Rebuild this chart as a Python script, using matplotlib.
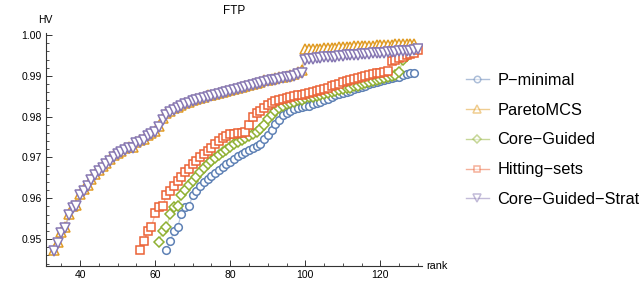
import matplotlib.pyplot as plt
import numpy as np

plt.rcParams["font.family"] = ["Liberation Sans", "DejaVu Sans"]

# ranks / HV values (one point per integer rank)
pmin_x = np.arange(63, 130)
pmin_y = [0.9473, 0.9495, 0.9519, 0.9530, 0.9562, 0.9578, 0.9581, 0.9607, 0.9619, 0.9629,
          0.9639, 0.9648, 0.9655, 0.9662, 0.9670, 0.9677, 0.9683, 0.9690, 0.9697, 0.9703,
          0.9709, 0.9714, 0.9718, 0.9722, 0.9727, 0.9733, 0.9745, 0.9755, 0.9768, 0.9782,
          0.9793, 0.9803, 0.9810, 0.9815, 0.9818, 0.9821, 0.9823, 0.9825, 0.9827, 0.9830,
          0.9833, 0.9836, 0.9840, 0.9843, 0.9848, 0.9852, 0.9855, 0.9858, 0.9861, 0.9864,
          0.9867, 0.9870, 0.9873, 0.9876, 0.9879, 0.9882, 0.9885, 0.9888, 0.9890, 0.9892,
          0.9894, 0.9896, 0.9898, 0.9901, 0.9904, 0.9906, 0.9907]

strat_x = np.arange(33, 131)
strat_y = [0.9470, 0.9490, 0.9515, 0.9527, 0.9558, 0.9577, 0.9580, 0.9607, 0.9619, 0.9630,
           0.9645, 0.9657, 0.9667, 0.9675, 0.9684, 0.9692, 0.9702, 0.9708, 0.9714, 0.9719,
           0.9722, 0.9723, 0.9736, 0.9739, 0.9742, 0.9753, 0.9758, 0.9762, 0.9775, 0.9793,
           0.9805, 0.9812, 0.9817, 0.9821, 0.9826, 0.9830, 0.9834, 0.9838, 0.9841, 0.9843,
           0.9846, 0.9849, 0.9851, 0.9853, 0.9855, 0.9858, 0.9861, 0.9863, 0.9865, 0.9867,
           0.9870, 0.9872, 0.9875, 0.9877, 0.9880, 0.9883, 0.9886, 0.9888, 0.9890, 0.9891,
           0.9893, 0.9895, 0.9897, 0.9898, 0.9899, 0.9904, 0.9906,
           0.9939, 0.9941, 0.9942, 0.9943, 0.9944, 0.9945, 0.9945, 0.9946, 0.9947, 0.9948,
           0.9949, 0.9950, 0.9950, 0.9951, 0.9952, 0.9953, 0.9953, 0.9954, 0.9955, 0.9956,
           0.9956, 0.9957, 0.9958, 0.9959, 0.9959, 0.9960, 0.9961, 0.9962, 0.9962, 0.9964,
           0.9965]

pareto_x = np.arange(33, 130)
pareto_y = [0.9473, 0.9493, 0.9518, 0.9530, 0.9561, 0.9580, 0.9583, 0.9610, 0.9622, 0.9633,
            0.9648, 0.9660, 0.9670, 0.9678, 0.9687, 0.9695, 0.9705, 0.9711, 0.9717, 0.9722,
            0.9725, 0.9726, 0.9739, 0.9742, 0.9745, 0.9756, 0.9761, 0.9765, 0.9778, 0.9796,
            0.9808, 0.9815, 0.9820, 0.9824, 0.9829, 0.9833, 0.9837, 0.9841, 0.9844, 0.9846,
            0.9849, 0.9852, 0.9854, 0.9856, 0.9858, 0.9861, 0.9864, 0.9866, 0.9868, 0.9870,
            0.9873, 0.9875, 0.9878, 0.9880, 0.9883, 0.9886, 0.9889, 0.9891, 0.9893, 0.9894,
            0.9896, 0.9898, 0.9900, 0.9902, 0.9904, 0.9910, 0.9914,
            0.9965, 0.9966, 0.9966, 0.9967, 0.9967, 0.9968, 0.9968, 0.9969, 0.9969, 0.9970,
            0.9970, 0.9971, 0.9971, 0.9972, 0.9972, 0.9973, 0.9973, 0.9974, 0.9974, 0.9975,
            0.9975, 0.9975, 0.9976, 0.9976, 0.9977, 0.9977, 0.9977, 0.9978, 0.9978, 0.9979]

core_x = np.arange(61, 130)
core_y = [0.9493, 0.9520, 0.9529, 0.9561, 0.9579, 0.9580, 0.9607, 0.9620, 0.9632, 0.9643,
          0.9653, 0.9664, 0.9674, 0.9683, 0.9691, 0.9699, 0.9707, 0.9713, 0.9719, 0.9726,
          0.9732, 0.9738, 0.9743, 0.9748, 0.9753, 0.9757, 0.9763, 0.9769, 0.9780, 0.9795,
          0.9805, 0.9814, 0.9820, 0.9825, 0.9830, 0.9834, 0.9837, 0.9840, 0.9842, 0.9845,
          0.9847, 0.9849, 0.9851, 0.9854, 0.9856, 0.9859, 0.9861, 0.9863, 0.9865, 0.9867,
          0.9869, 0.9871, 0.9874, 0.9876, 0.9879, 0.9882, 0.9885, 0.9887, 0.9890, 0.9892,
          0.9895, 0.9897, 0.9900, 0.9903, 0.9909, 0.9940, 0.9948, 0.9955, 0.9966]

hit_x = np.arange(56, 131)
hit_y = [0.9473, 0.9495, 0.9520, 0.9530, 0.9563, 0.9579, 0.9581, 0.9607, 0.9618, 0.9630,
         0.9643, 0.9652, 0.9664, 0.9672, 0.9683, 0.9692, 0.9700, 0.9708, 0.9716, 0.9724,
         0.9732, 0.9740, 0.9747, 0.9753, 0.9757, 0.9758, 0.9759, 0.9760, 0.9762, 0.9780,
         0.9800, 0.9808, 0.9815, 0.9821, 0.9828, 0.9833, 0.9838, 0.9841, 0.9843, 0.9846,
         0.9848, 0.9850, 0.9852, 0.9854, 0.9856, 0.9858, 0.9860, 0.9863, 0.9865, 0.9868,
         0.9870, 0.9874, 0.9877, 0.9880, 0.9884, 0.9887, 0.9890, 0.9893, 0.9895, 0.9898,
         0.9900, 0.9902, 0.9904, 0.9906, 0.9908, 0.9910, 0.9912, 0.9936, 0.9940, 0.9944,
         0.9947, 0.9950, 0.9953, 0.9956, 0.9964]

series = [
    ("P\u2212minimal", pmin_x, pmin_y, "#5E81B5", "o", 5.5),
    ("ParetoMCS", pareto_x, pareto_y, "#E19C24", "^", 6.5),
    ("Core\u2212Guided", core_x, core_y, "#8FB032", "D", 4.6),
    ("Hitting\u2212sets", hit_x, hit_y, "#EB6235", "s", 5.2),
    ("Core\u2212Guided\u2212Strat", strat_x, strat_y, "#8778B3", "v", 6.5),
]

fig = plt.figure(figsize=(6.4, 3.03), dpi=100)
ax = fig.add_axes([46 / 640, 37 / 303, 376 / 640, 233 / 303])

handles = []
for label, xs, ys, col, mk, ms in series:
    ax.plot(xs, ys, color=col, lw=0.9, alpha=0.45, zorder=1)
    ax.plot(xs, ys, ls="none", marker=mk, ms=ms, mfc="white", mec=col, mew=1.1, zorder=2)
    h, = ax.plot([], [], color=col, lw=1, alpha=0.5, marker=mk, ms=ms * 0.85,
                 mfc="white", mec=col, mew=1.1)
    handles.append(h)

ax.set_xlim(30.9, 131.1)
ax.set_ylim(0.9434, 1.0005)
ax.set_xticks([40, 60, 80, 100, 120])
ax.set_xticks(np.arange(35, 131, 5), minor=True)
ax.set_yticks([0.95, 0.96, 0.97, 0.98, 0.99, 1.00])
ax.set_yticklabels(["0.95", "0.96", "0.97", "0.98", "0.99", "1.00"])
ax.set_yticks(np.arange(0.944, 1.0005, 0.002), minor=True)

for s in ["top", "right"]:
    ax.spines[s].set_visible(False)
for s in ["left", "bottom"]:
    ax.spines[s].set_color("#333333")
    ax.spines[s].set_linewidth(0.8)
ax.tick_params(which="major", direction="in", length=4, width=0.7, labelsize=7.5,
               colors="#333333", labelcolor="black", pad=3)
ax.tick_params(which="minor", direction="in", length=2.2, width=0.6, colors="#333333")

ax.set_title("FTP", fontsize=8.5, pad=14)
fig.text(45 / 640, 1 - 20 / 303, "HV", fontsize=7.5, ha="center", va="center")
fig.text(437 / 640, 1 - 266 / 303, "rank", fontsize=7.8, ha="center", va="center")

fig.legend(handles, [s[0] for s in series], loc="upper left",
           bbox_to_anchor=(466 / 640, 1 - 73 / 303), frameon=False, fontsize=11.8,
           handlelength=1.4, handletextpad=0.5, labelspacing=0.9,
           borderpad=0, borderaxespad=0)

fig.savefig("out.png", dpi=100)
